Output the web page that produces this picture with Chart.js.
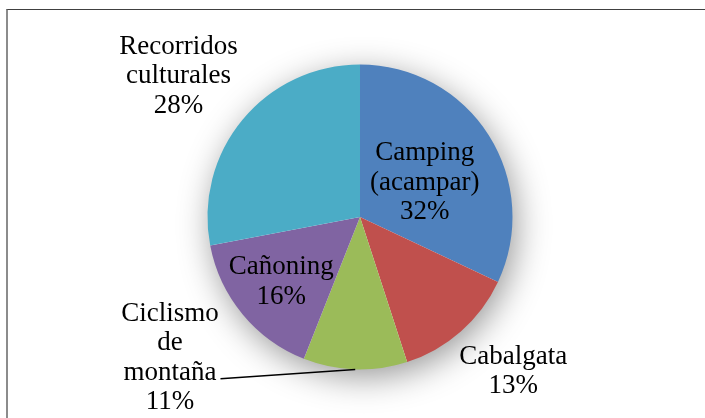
<!DOCTYPE html>
<html>
<head>
<meta charset="utf-8">
<script src="https://cdn.jsdelivr.net/npm/chart.js@4"></script>
<style>
  html, body { margin: 0; padding: 0; background: #ffffff; }
  #wrap { position: relative; width: 705px; height: 418px; overflow: hidden; }
  #frame { position: absolute; left: 6px; top: 9px; width: 720px; height: 430px;
           border-top: 1px solid #404040; border-left: 2px solid #8c8c8c; pointer-events: none; }
  canvas { display: block; }
  .fload { font-family: "Liberation Serif"; position: absolute; left: -999px; top: 0; font-size: 27px; }
</style>
</head>
<body>
<span class="fload">Cañoning 0123456789%</span>
<div id="wrap">
  <canvas id="c" width="705" height="418"></canvas>
  <div id="frame"></div>
</div>
<script>
// ---- data ----
const categories = ['Camping (acampar)', 'Cabalgata', 'Ciclismo de montaña', 'Cañoning', 'Recorridos culturales'];
const nameLines = [['Camping', '(acampar)'], ['Cabalgata'], ['Ciclismo', 'de', 'montaña'], ['Cañoning'], ['Recorridos', 'culturales']];
const percentages = [32, 13, 11, 16, 28];
const sliceColors = ['#4F81BD', '#C0504D', '#9BBB59', '#8064A2', '#4BACC6'];

// ---- label placement (layout only) ----
const labelPlacement = [
  { f: 0.48, dx: 3, dy: 5 },
  { f: 1.43, dx: 9, dy: -9 },
  { f: 0, dx: -190, dy: 141, leader: true, leaderLine: 2 },
  { f: 0.67, dx: 0, dy: 0 },
  { f: 1.51, dx: -4, dy: 6 }
];

const LABEL_FONT = '27px "Liberation Serif", "Times New Roman", serif';

const shadowPlugin = {
  id: 'pieShadow',
  beforeDatasetsDraw(chart) {
    const meta = chart.getDatasetMeta(0);
    if (!meta.data.length) return;
    const a = meta.data[0];
    const ctx = chart.ctx;
    ctx.save();
    ctx.shadowColor = 'rgba(0,0,0,0.42)';
    ctx.shadowBlur = 34;
    ctx.shadowOffsetX = 4;
    ctx.shadowOffsetY = 8;
    ctx.beginPath();
    ctx.arc(a.x, a.y, a.outerRadius - 1, 0, Math.PI * 2);
    ctx.fillStyle = '#ffffff';
    ctx.fill();
    ctx.restore();
  }
};

const labelPlugin = {
  id: 'sliceLabels',
  afterDatasetsDraw(chart) {
    const meta = chart.getDatasetMeta(0);
    const ctx = chart.ctx;
    const lh = 29.5;
    ctx.save();
    ctx.font = LABEL_FONT;
    ctx.fillStyle = '#000000';
    ctx.textAlign = 'center';
    ctx.textBaseline = 'middle';
    meta.data.forEach((arc, i) => {
      const p = labelPlacement[i];
      const mid = (arc.startAngle + arc.endAngle) / 2;
      const r = arc.outerRadius;
      const cx = arc.x + Math.cos(mid) * r * p.f + p.dx;
      const cy = arc.y + Math.sin(mid) * r * p.f + p.dy;
      const lines = nameLines[i].concat([percentages[i] + '%']);
      const n = lines.length;
      lines.forEach((t, k) => {
        ctx.fillText(t, cx, cy + (k - (n - 1) / 2) * lh);
      });
      if (p.leader) {
        const k = p.leaderLine;
        const w = ctx.measureText(lines[k]).width;
        const ex = cx + w / 2 + 4;
        const ey = cy + (k - (n - 1) / 2) * lh + 6;
        const sx = arc.x + Math.cos(mid) * r;
        const sy = arc.y + Math.sin(mid) * r;
        ctx.beginPath();
        ctx.moveTo(ex, ey);
        ctx.lineTo(sx, sy);
        ctx.lineWidth = 1.6;
        ctx.strokeStyle = '#000000';
        ctx.stroke();
      }
    });
    ctx.restore();
  }
};

function draw() {
  new Chart(document.getElementById('c'), {
    type: 'pie',
    data: {
      labels: categories,
      datasets: [{
        data: percentages,
        backgroundColor: sliceColors,
        borderWidth: 0
      }]
    },
    options: {
      responsive: false,
      animation: false,
      layout: { padding: { left: 100, right: 85, top: 64.5, bottom: 48.5 } },
      plugins: {
        legend: { display: false },
        tooltip: { enabled: false }
      }
    },
    plugins: [shadowPlugin, labelPlugin]
  });
}

if (document.fonts && document.fonts.load) {
  document.fonts.load(LABEL_FONT, 'Cañoning 0123456789%').then(draw, draw);
} else {
  draw();
}
</script>
</body>
</html>
